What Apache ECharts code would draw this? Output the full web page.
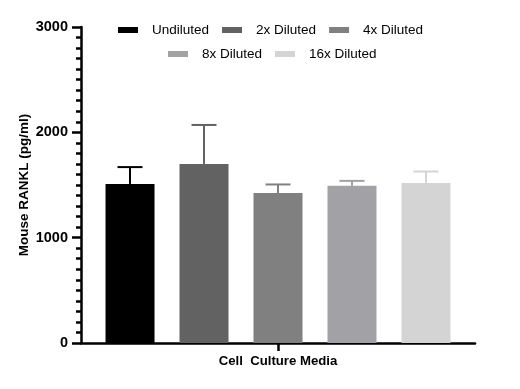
<!DOCTYPE html>
<html>
<head>
<meta charset="utf-8">
<script src="https://cdn.jsdelivr.net/npm/echarts@6/dist/echarts.min.js"></script>
<style>html,body{margin:0;padding:0;background:#fff}#c{width:520px;height:389px}</style>
</head>
<body>
<div id="c"></div>
<script>
var category = ['Cell  Culture Media'];
var seriesNames = ['Undiluted', '2x Diluted', '4x Diluted', '8x Diluted', '16x Diluted'];
var means = [1510, 1700, 1425, 1492, 1520];
var errors = [160, 370, 80, 47, 108];
var colors = ['#000000', '#626262', '#808080', '#a2a1a6', '#d4d4d4'];
var yTicks = { min: 0, max: 3000, interval: 1000 };

var FONT = 'Arial, "Liberation Sans", sans-serif';
var BAR_W = 49;
var GAP = 0.51;
var STEP = BAR_W * (1 + GAP);

var chart = echarts.init(document.getElementById('c'), null, { renderer: 'canvas' });

var series = seriesNames.map(function (name, i) {
  return {
    name: name,
    type: 'bar',
    data: [means[i]],
    barWidth: BAR_W,
    barGap: (GAP * 100) + '%',
    itemStyle: { color: colors[i] },
    silent: true
  };
});

series.push({
  name: 'err',
  type: 'custom',
  silent: true,
  z: 5,
  data: means.map(function (m, i) { return [0, m, errors[i], i]; }),
  renderItem: function (params, api) {
    var idx = api.value(3);
    var base = api.coord([0, api.value(1)]);
    var top = api.coord([0, api.value(1) + api.value(2)]);
    var n = seriesNames.length;
    var x = base[0] + (idx - (n - 1) / 2) * STEP;
    var style = { stroke: colors[idx], lineWidth: 2 };
    return {
      type: 'group',
      children: [
        { type: 'line', shape: { x1: x, y1: base[1], x2: x, y2: top[1] }, style: style },
        { type: 'line', shape: { x1: x - 12.5, y1: top[1], x2: x + 12.5, y2: top[1] }, style: style }
      ]
    };
  }
});

var legendCommon = {
  icon: 'rect',
  itemWidth: 20,
  itemHeight: 6,
  itemGap: 13,
  selectedMode: false,
  textStyle: { fontFamily: FONT, fontSize: 13.5, color: '#000', padding: [0, 0, 0, 9] }
};

chart.setOption({
  animation: false,
  backgroundColor: '#fff',
  legend: [
    Object.assign({}, legendCommon, { data: seriesNames.slice(0, 3), top: 18, left: 113 }),
    Object.assign({}, legendCommon, { data: seriesNames.slice(3), top: 42, left: 163 })
  ],
  grid: { left: 81, right: 45, top: 27, bottom: 46, containLabel: false },
  xAxis: {
    type: 'category',
    data: category,
    axisLine: { lineStyle: { color: '#000', width: 2.5 } },
    axisTick: { show: true, alignWithLabel: true, length: 8, lineStyle: { color: '#000', width: 2.5 } },
    axisLabel: { fontFamily: FONT, fontSize: 13.2, fontWeight: 'bold', color: '#000', margin: 12 }
  },
  yAxis: {
    type: 'value',
    min: yTicks.min,
    max: yTicks.max,
    interval: yTicks.interval,
    name: 'Mouse RANKL (pg/ml)',
    nameLocation: 'middle',
    nameGap: 50,
    nameMoveOverlap: false,
    nameTextStyle: { fontFamily: FONT, fontSize: 13.5, fontWeight: 'bold', color: '#000' },
    axisLine: { show: true, lineStyle: { color: '#000', width: 2.5 } },
    axisTick: { show: true, length: 9, lineStyle: { color: '#000', width: 2.5 } },
    minorTick: { show: true, splitNumber: 10, length: 5, lineStyle: { color: '#000', width: 2.5 } },
    splitLine: { show: false },
    axisLabel: {
      fontFamily: FONT, fontSize: 14.5, fontWeight: 'bold', color: '#000', margin: 13,
      formatter: function (v) { return String(v); }
    }
  },
  series: series
});
</script>
</body>
</html>
